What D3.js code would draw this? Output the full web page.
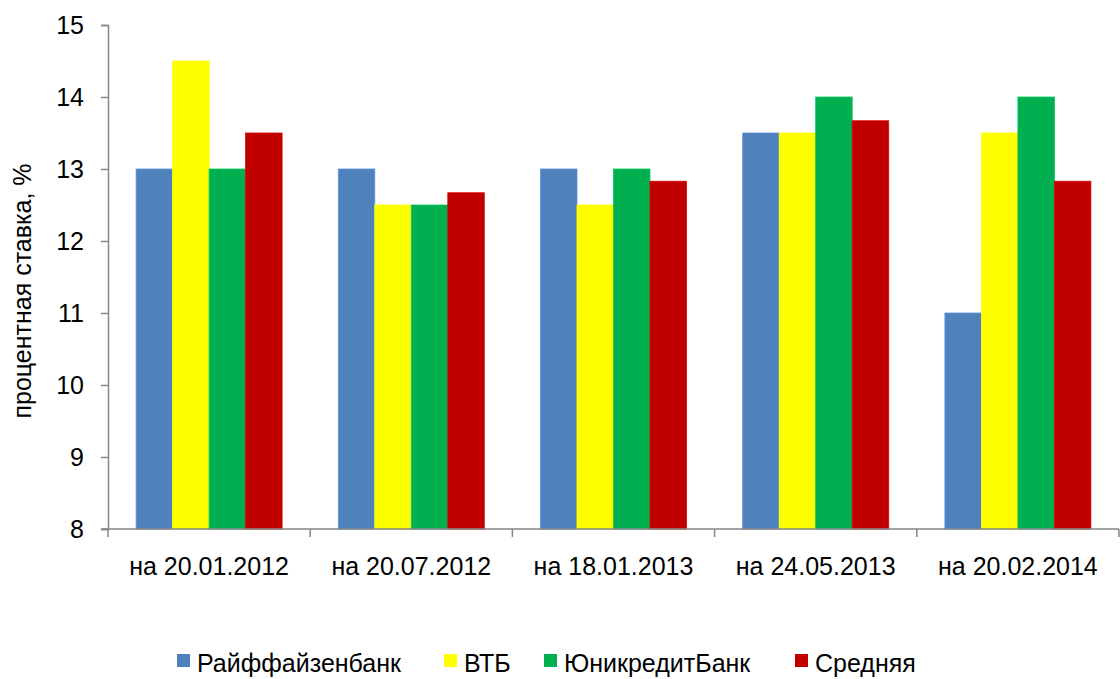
<!DOCTYPE html>
<html>
<head>
<meta charset="utf-8">
<script src="https://cdn.jsdelivr.net/npm/d3@7"></script>
<style>
  body { margin: 0; background: #fff; }
  svg { font-family: "Liberation Sans", Arial, sans-serif; }
</style>
</head>
<body>
<svg></svg>
<script>
// data
let categories = ['на 20.01.2012', 'на 20.07.2012', 'на 18.01.2013', 'на 24.05.2013', 'на 20.02.2014']
let seriesNames = ['Райффайзенбанк', 'ВТБ', 'ЮникредитБанк', 'Средняя']
let raif = [13, 13, 13, 13.5, 11]
let vtb = [14.5, 12.5, 12.5, 13.5, 13.5]
let unicredit = [13, 12.5, 13, 14, 14]
let average = [13.5, 12.67, 12.83, 13.67, 12.83]
let yTicks = [8, 9, 10, 11, 12, 13, 14, 15]
let colors = ['#4f81bd', '#ffff00', '#00b050', '#c00000']

let w = 1120
let h = 679
let plotLeft = 108, plotRight = 1119, plotTop = 25, plotBottom = 529
let fontSize = 25

let svg = d3.select('svg').attr('width', w).attr('height', h)

let values = [raif, vtb, unicredit, average]

let xScale = d3.scaleBand()
    .domain(categories)
    .range([plotLeft, plotRight])

// bars inside one category, with wide gaps on both sides
let xInner = d3.scaleBand()
    .domain(seriesNames)
    .range([0, xScale.bandwidth()])
    .paddingOuter(0.77)
    .paddingInner(0)

let yScale = d3.scaleLinear()
    .domain([8, 15])
    .range([plotBottom, plotTop])

// bars
seriesNames.forEach((name, si) => {
    svg.append('g')
        .selectAll('rect')
        .data(values[si])
        .enter()
        .append('rect')
        .attr('x', (d, i) => xScale(categories[i]) + xInner(name))
        .attr('width', xInner.bandwidth())
        .attr('y', d => yScale(d))
        .attr('height', d => plotBottom - yScale(d))
        .attr('fill', colors[si])
        .attr('stroke', d3.color(colors[si]).brighter(0.4))
        .attr('stroke-width', 0.8)
})

// y axis
let yAxis = d3.axisLeft(yScale).tickValues(yTicks).tickFormat(d3.format('d')).tickSize(7).tickPadding(17)
let gy = svg.append('g')
    .attr('transform', 'translate(' + plotLeft + ',0)')
    .call(yAxis)
gy.select('.domain').attr('stroke', '#868686').attr('stroke-width', 1.5)
gy.selectAll('.tick line').attr('stroke', '#868686').attr('stroke-width', 1.5)
gy.selectAll('.tick text').attr('font-size', fontSize).attr('fill', '#000')
    .attr('font-family', '"Liberation Sans", Arial, sans-serif')

// x axis line with boundary ticks
let gx = svg.append('g')
gx.append('line')
    .attr('x1', plotLeft - 7).attr('x2', plotRight)
    .attr('y1', plotBottom).attr('y2', plotBottom)
    .attr('stroke', '#868686').attr('stroke-width', 1.5)
let bounds = categories.map(c => xScale(c)).concat([plotRight])
gx.selectAll('.bt')
    .data(bounds)
    .enter()
    .append('line')
    .attr('x1', d => d).attr('x2', d => d)
    .attr('y1', plotBottom).attr('y2', plotBottom + 8)
    .attr('stroke', '#868686').attr('stroke-width', 1.5)
gx.selectAll('.cl')
    .data(categories)
    .enter()
    .append('text')
    .attr('x', d => xScale(d) + xScale.bandwidth() / 2)
    .attr('y', 575)
    .attr('text-anchor', 'middle')
    .attr('font-size', fontSize)
    .text(d => d)

// y label
svg.append('text')
    .attr('transform', 'translate(31,291) rotate(-90)')
    .attr('text-anchor', 'middle')
    .attr('font-size', fontSize)
    .text('процентная ставка, %')

// legend (pulled up a little so descenders stay inside the page)
let legendX = [177, 444, 544, 795]
let legend = svg.append('g')
seriesNames.forEach((name, i) => {
    legend.append('rect')
        .attr('x', legendX[i]).attr('y', 654)
        .attr('width', 13).attr('height', 13)
        .attr('fill', colors[i])
    legend.append('text')
        .attr('x', legendX[i] + 20).attr('y', 672)
        .attr('font-size', fontSize)
        .text(name)
})
</script>
</body>
</html>
